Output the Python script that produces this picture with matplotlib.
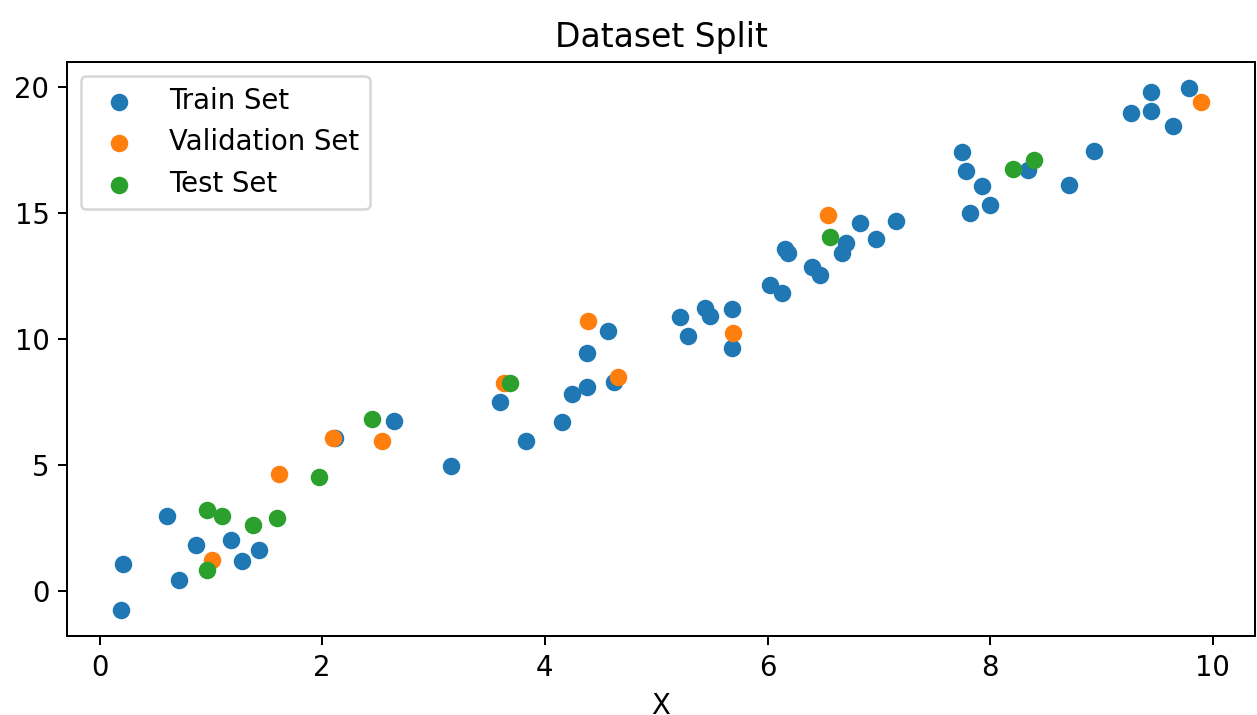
import numpy as np
import matplotlib
matplotlib.use('Agg')
import matplotlib.pyplot as plt

# pontos
x_train = [0.193, 0.213, 0.605, 0.715, 0.870, 1.179, 1.283, 1.430, 2.114, 2.649,
           3.154, 3.599, 3.832, 4.155, 4.247, 4.376, 4.376, 4.567, 4.621, 5.213,
           5.285, 5.440, 5.485, 5.679, 5.679, 6.020, 6.127, 6.160, 6.181, 6.396,
           6.468, 6.701, 6.665, 6.827, 6.973, 7.152, 7.744, 7.780, 7.923, 7.815,
           7.998, 8.336, 8.709, 8.931, 9.265, 9.444, 9.444, 9.641, 9.785]
y_train = [-0.73, 1.10, 3.01, 0.47, 1.83, 2.05, 1.19, 1.66, 6.10, 6.75,
           4.99, 7.53, 5.95, 6.74, 7.85, 8.09, 9.44, 10.31, 8.31, 10.88,
           10.15, 11.23, 10.93, 11.20, 9.66, 12.15, 11.82, 13.58, 13.41, 12.87,
           12.54, 13.83, 13.42, 14.63, 13.99, 14.69, 17.41, 16.69, 16.06, 15.01,
           15.34, 16.73, 16.12, 17.47, 18.98, 19.81, 19.06, 18.44, 19.96]

x_val = [1.014, 1.609, 2.093, 2.538, 3.629, 4.388, 4.660, 5.693, 6.540, 9.893]
y_val = [1.26, 4.67, 6.10, 5.95, 8.25, 10.72, 8.50, 10.25, 14.93, 19.39]

x_test = [0.964, 0.964, 1.104, 1.376, 1.591, 1.968, 2.448, 3.689, 6.561, 8.207, 8.389]
y_test = [3.23, 0.86, 3.01, 2.62, 2.93, 4.52, 6.82, 8.25, 14.05, 16.76, 17.09]

plt.rcParams['font.size'] = 11

fig = plt.figure(figsize=(1257 / 180, 715 / 180), dpi=180)
plt.subplots_adjust(left=67 / 1257, right=1255 / 1257, top=1 - 62 / 715, bottom=1 - 636 / 715)

plt.scatter(x_train, y_train, label='Train Set')
plt.scatter(x_val, y_val, label='Validation Set')
plt.scatter(x_test, y_test, label='Test Set')

plt.title('Dataset Split')
plt.xlabel('X')
plt.legend(loc='upper left')

plt.savefig('out.png', dpi=180)
